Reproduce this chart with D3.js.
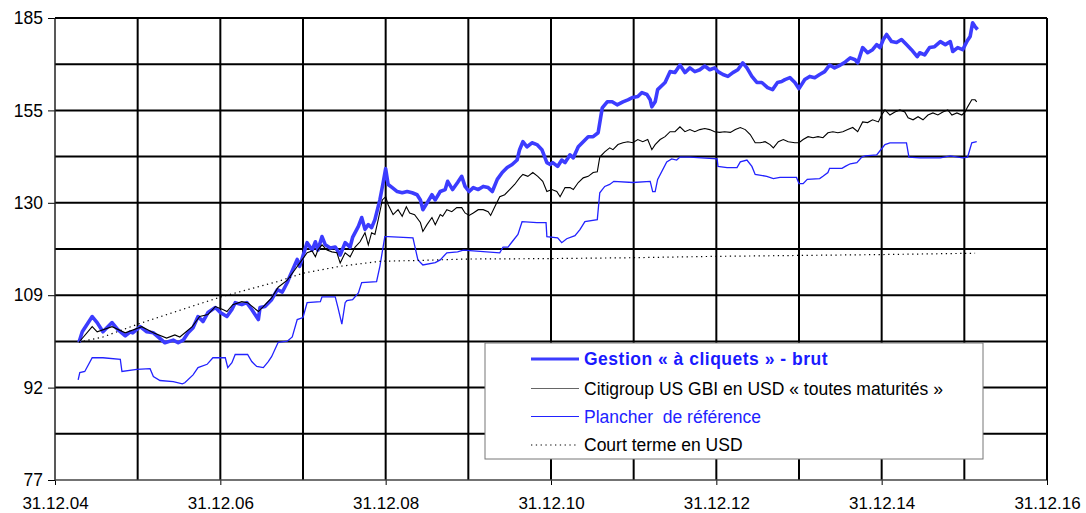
<!DOCTYPE html>
<html>
<head>
<meta charset="utf-8">
<script src="https://cdn.jsdelivr.net/npm/d3@7"></script>
<style>
  body { margin: 0; background: #fff; }
  svg { display: block; font-family: "Liberation Sans", Arial, sans-serif; }
</style>
</head>
<body>
<div id="chart"></div>
<script>
// Values. x is a decimal year: 2005.0 = 31.12.04
const xTicks = [2005, 2007, 2009, 2011, 2013, 2015, 2017];
const xTickLabels = ["31.12.04", "31.12.06", "31.12.08", "31.12.10", "31.12.12", "31.12.14", "31.12.16"];
const yMin = 77, yMax = 185;
const yTickLabels = ["77", "92", "109", "130", "155", "185"];

const seriesNames = [
  "Gestion « à cliquets » - brut",
  "Citigroup US GBI en USD « toutes maturités »",
  "Plancher  de référence",
  "Court terme en USD"
];

const gestion = [[2005.29,100.0],[2005.33,102.0],[2005.45,105.0],[2005.51,103.8],[2005.58,102.0],[2005.69,103.8],[2005.76,102.4],[2005.85,101.2],[2005.91,102.0],[2005.94,101.8],[2006.03,103.0],[2006.11,102.0],[2006.19,101.8],[2006.25,101.0],[2006.33,99.9],[2006.43,100.4],[2006.49,99.9],[2006.55,100.4],[2006.61,101.8],[2006.67,102.8],[2006.73,105.0],[2006.79,104.0],[2006.85,105.8],[2006.94,106.8],[2007.00,105.8],[2007.08,105.0],[2007.14,106.4],[2007.18,107.8],[2007.26,107.4],[2007.32,107.8],[2007.38,106.4],[2007.46,104.4],[2007.48,106.8],[2007.54,107.0],[2007.62,108.4],[2007.69,110.5],[2007.75,110.0],[2007.81,112.0],[2007.84,113.3],[2007.93,117.0],[2007.96,115.5],[2008.05,120.8],[2008.11,119.1],[2008.15,121.0],[2008.18,119.1],[2008.23,122.2],[2008.27,120.3],[2008.33,119.6],[2008.39,119.8],[2008.45,118.0],[2008.51,120.8],[2008.57,119.8],[2008.60,122.0],[2008.67,124.6],[2008.71,126.7],[2008.75,123.9],[2008.79,125.0],[2008.83,124.3],[2008.87,126.2],[2008.93,131.0],[2008.97,135.4],[2009.00,139.0],[2009.03,134.9],[2009.08,134.1],[2009.14,133.1],[2009.20,132.8],[2009.26,133.1],[2009.32,132.8],[2009.38,132.3],[2009.42,131.0],[2009.45,128.6],[2009.50,130.2],[2009.56,132.3],[2009.60,131.0],[2009.66,133.1],[2009.72,133.6],[2009.75,135.7],[2009.81,133.6],[2009.87,135.4],[2009.92,137.0],[2009.96,134.4],[2010.01,133.1],[2010.06,134.1],[2010.12,133.6],[2010.18,134.4],[2010.24,134.1],[2010.29,133.1],[2010.35,136.2],[2010.41,138.0],[2010.47,139.3],[2010.53,140.1],[2010.59,141.3],[2010.62,144.1],[2010.66,146.3],[2010.71,144.9],[2010.77,146.0],[2010.83,145.5],[2010.89,144.1],[2010.95,140.6],[2010.99,140.1],[2011.02,140.6],[2011.08,139.6],[2011.13,141.3],[2011.17,140.6],[2011.23,142.7],[2011.27,141.9],[2011.33,144.9],[2011.39,146.3],[2011.45,147.7],[2011.51,147.7],[2011.57,148.8],[2011.62,156.0],[2011.68,157.8],[2011.74,157.8],[2011.80,156.9],[2011.87,157.8],[2011.93,158.4],[2011.99,159.1],[2012.05,159.4],[2012.10,160.6],[2012.16,160.0],[2012.20,158.4],[2012.22,156.3],[2012.26,157.8],[2012.29,161.5],[2012.38,163.7],[2012.44,167.1],[2012.50,166.8],[2012.56,169.2],[2012.62,166.8],[2012.68,168.3],[2012.74,167.1],[2012.80,167.7],[2012.86,168.9],[2012.92,167.7],[2012.98,168.3],[2013.02,167.1],[2013.08,166.2],[2013.14,165.6],[2013.20,166.8],[2013.26,167.7],[2013.32,169.9],[2013.37,168.3],[2013.43,165.6],[2013.49,163.7],[2013.55,163.7],[2013.62,162.1],[2013.68,161.5],[2013.74,163.7],[2013.79,164.0],[2013.83,164.6],[2013.89,165.2],[2013.95,163.7],[2014.00,161.8],[2014.07,164.6],[2014.13,165.6],[2014.19,165.2],[2014.25,166.2],[2014.31,167.1],[2014.37,169.2],[2014.43,168.3],[2014.50,169.2],[2014.56,170.2],[2014.62,171.5],[2014.68,170.9],[2014.71,169.9],[2014.77,174.9],[2014.83,173.2],[2014.89,174.2],[2014.94,175.9],[2014.98,174.9],[2015.02,177.6],[2015.06,179.3],[2015.12,176.9],[2015.18,176.6],[2015.24,177.6],[2015.30,175.9],[2015.36,174.2],[2015.43,171.9],[2015.46,173.2],[2015.52,172.5],[2015.58,174.9],[2015.64,175.2],[2015.71,176.9],[2015.77,175.9],[2015.83,176.9],[2015.86,173.6],[2015.92,174.9],[2015.98,174.2],[2016.03,176.9],[2016.07,178.6],[2016.10,183.3],[2016.13,182.0],[2016.16,181.0]];

const citigroup = [[2005.29,100.0],[2005.45,103.0],[2005.51,102.0],[2005.69,103.0],[2005.85,101.8],[2006.05,103.0],[2006.19,101.8],[2006.35,100.8],[2006.45,101.4],[2006.51,101.0],[2006.66,103.0],[2006.75,105.0],[2006.85,105.4],[2006.94,107.0],[2007.03,106.4],[2007.08,106.0],[2007.15,107.4],[2007.26,108.0],[2007.33,107.8],[2007.46,106.0],[2007.52,107.0],[2007.62,108.8],[2007.70,111.0],[2007.81,112.5],[2007.90,114.7],[2007.96,116.2],[2008.05,118.5],[2008.11,118.9],[2008.15,117.6],[2008.18,119.1],[2008.23,120.3],[2008.29,119.1],[2008.35,118.7],[2008.41,118.5],[2008.45,116.2],[2008.51,118.5],[2008.57,117.6],[2008.63,119.8],[2008.69,121.0],[2008.75,123.1],[2008.79,120.3],[2008.83,123.1],[2008.87,122.7],[2008.91,126.2],[2008.96,131.0],[2009.00,131.8],[2009.03,129.8],[2009.09,127.4],[2009.15,128.6],[2009.20,127.0],[2009.25,129.3],[2009.29,127.8],[2009.35,127.4],[2009.42,125.5],[2009.45,123.4],[2009.50,125.0],[2009.56,126.7],[2009.60,125.0],[2009.66,127.4],[2009.69,127.0],[2009.74,128.6],[2009.80,128.1],[2009.86,129.1],[2009.92,129.1],[2009.96,127.8],[2010.01,127.2],[2010.06,127.8],[2010.12,128.6],[2010.18,128.6],[2010.24,128.1],[2010.27,127.2],[2010.32,129.3],[2010.38,131.8],[2010.44,132.3],[2010.50,133.6],[2010.56,134.9],[2010.62,136.6],[2010.66,137.5],[2010.72,137.0],[2010.78,138.0],[2010.84,137.0],[2010.90,135.7],[2010.95,133.1],[2011.01,133.6],[2011.07,133.1],[2011.11,131.8],[2011.17,134.1],[2011.23,134.1],[2011.27,133.6],[2011.33,135.4],[2011.39,136.6],[2011.45,137.0],[2011.51,138.0],[2011.56,138.2],[2011.59,142.1],[2011.65,143.5],[2011.71,144.6],[2011.75,144.1],[2011.81,145.5],[2011.87,146.0],[2011.93,146.3],[2011.99,146.0],[2012.05,146.9],[2012.11,146.3],[2012.17,146.9],[2012.22,144.1],[2012.26,145.5],[2012.32,146.9],[2012.38,147.7],[2012.44,149.1],[2012.50,149.1],[2012.56,150.5],[2012.62,149.1],[2012.68,149.7],[2012.74,149.1],[2012.80,149.7],[2012.86,150.0],[2012.92,149.7],[2012.98,149.1],[2013.04,148.9],[2013.10,149.1],[2013.17,148.9],[2013.23,149.7],[2013.29,150.3],[2013.35,149.7],[2013.41,148.3],[2013.47,146.0],[2013.53,146.0],[2013.59,146.3],[2013.65,145.5],[2013.69,144.6],[2013.75,146.3],[2013.81,146.9],[2013.87,146.3],[2013.95,146.0],[2014.00,146.0],[2014.05,146.9],[2014.11,147.7],[2014.17,147.4],[2014.23,147.7],[2014.29,147.4],[2014.35,148.8],[2014.41,149.1],[2014.47,148.8],[2014.53,149.1],[2014.59,149.7],[2014.65,150.3],[2014.71,149.1],[2014.77,151.9],[2014.83,151.7],[2014.89,152.5],[2014.96,151.9],[2015.00,153.9],[2015.04,155.4],[2015.10,153.9],[2015.16,154.8],[2015.22,155.4],[2015.28,154.8],[2015.32,153.1],[2015.38,152.5],[2015.44,153.4],[2015.50,152.5],[2015.56,153.9],[2015.62,154.5],[2015.68,153.9],[2015.74,154.8],[2015.80,155.4],[2015.85,153.9],[2015.91,154.5],[2015.97,153.9],[2016.01,154.8],[2016.04,156.3],[2016.09,158.4],[2016.13,158.4],[2016.15,157.8]];

const plancher = [[2005.28,93.1],[2005.30,94.4],[2005.36,94.6],[2005.45,97.1],[2005.58,97.1],[2005.79,96.8],[2005.81,94.6],[2005.99,95.0],[2006.15,95.1],[2006.19,93.7],[2006.27,93.0],[2006.43,92.8],[2006.54,92.4],[2006.57,92.6],[2006.67,94.0],[2006.73,95.3],[2006.84,95.9],[2006.91,97.1],[2007.06,97.1],[2007.09,95.3],[2007.14,96.2],[2007.18,97.7],[2007.33,97.7],[2007.38,96.4],[2007.44,95.5],[2007.52,95.3],[2007.58,96.4],[2007.62,97.3],[2007.70,100.0],[2007.81,100.2],[2007.87,101.0],[2007.93,104.4],[2008.00,104.8],[2008.05,107.8],[2008.21,108.0],[2008.23,109.0],[2008.39,109.0],[2008.42,107.0],[2008.47,103.5],[2008.51,107.8],[2008.53,108.2],[2008.60,108.4],[2008.67,109.8],[2008.71,112.0],[2008.89,112.2],[2008.93,115.5],[2008.99,122.2],[2009.03,122.2],[2009.33,121.9],[2009.39,116.9],[2009.45,115.8],[2009.60,116.3],[2009.66,116.9],[2009.74,118.5],[2009.87,118.7],[2009.94,119.1],[2010.38,118.5],[2010.42,119.8],[2010.48,119.8],[2010.53,121.0],[2010.60,122.7],[2010.65,125.7],[2010.83,125.5],[2010.94,125.5],[2010.95,122.2],[2011.08,121.9],[2011.13,120.8],[2011.19,121.7],[2011.29,122.4],[2011.35,123.8],[2011.41,125.7],[2011.56,126.2],[2011.59,132.8],[2011.65,134.4],[2011.71,134.9],[2011.76,135.7],[2011.99,135.4],[2012.20,135.7],[2012.23,133.1],[2012.26,133.1],[2012.29,136.2],[2012.40,140.8],[2012.46,141.6],[2012.52,141.3],[2012.56,142.1],[2012.68,142.1],[2013.01,141.6],[2013.02,139.6],[2013.13,139.3],[2013.25,139.3],[2013.29,140.8],[2013.37,141.3],[2013.43,139.6],[2013.47,137.5],[2013.61,137.0],[2013.69,136.4],[2013.77,136.7],[2013.97,136.7],[2014.00,135.1],[2014.05,135.1],[2014.10,136.2],[2014.25,136.4],[2014.29,137.0],[2014.35,138.0],[2014.37,139.1],[2014.52,139.1],[2014.56,139.6],[2014.62,140.3],[2014.70,140.6],[2014.76,142.1],[2014.80,142.4],[2014.94,142.7],[2014.98,143.8],[2015.04,145.5],[2015.10,146.0],[2015.30,146.0],[2015.33,142.1],[2015.46,141.9],[2015.71,141.9],[2015.83,142.4],[2015.98,141.9],[2016.04,142.1],[2016.09,146.0],[2016.15,146.3]];

const courtTerme = [[2005.29,100.0],[2005.58,101.0],[2006.02,103.6],[2006.50,106.2],[2007.01,109.0],[2007.69,112.2],[2008.00,114.0],[2008.45,115.5],[2008.93,116.6],[2009.42,116.8],[2009.98,117.1],[2010.99,117.2],[2012.00,117.4],[2013.00,117.7],[2014.00,117.9],[2015.00,118.1],[2016.13,118.4]];

const width = 1086, height = 513;
const plotLeft = 55, plotRight = 1047, plotTop = 18, plotBottom = 480;

const svg = d3.select("#chart").append("svg")
  .attr("width", width)
  .attr("height", height);

const x = d3.scaleLinear().domain([2005, 2017]).range([plotLeft, plotRight]);
const y = d3.scaleLog().domain([yMin, yMax]).range([plotBottom, plotTop]);

// 10 equal steps on the log scale, labels on every other one
const yGrid = d3.range(11).map(k => yMin * Math.pow(yMax / yMin, k / 10));
const yLabelled = yGrid.filter((d, i) => i % 2 === 0);
const xGrid = d3.range(2006, 2017);

// gridlines
svg.append("g")
  .selectAll("line")
  .data(yGrid.slice(1))
  .join("line")
  .attr("x1", plotLeft).attr("x2", plotRight)
  .attr("y1", d => y(d)).attr("y2", d => y(d))
  .attr("stroke", "#000")
  .attr("stroke-width", 2);

svg.append("g")
  .selectAll("line")
  .data(xGrid)
  .join("line")
  .attr("x1", d => x(d)).attr("x2", d => x(d))
  .attr("y1", plotTop).attr("y2", plotBottom)
  .attr("stroke", "#000")
  .attr("stroke-width", 2);

// series
const line = d3.line().x(d => x(d[0])).y(d => y(d[1]));

svg.append("path").datum(plancher)
  .attr("d", line).attr("fill", "none")
  .attr("stroke", "#2222ff").attr("stroke-width", 1.3);

svg.append("path").datum(gestion)
  .attr("d", line).attr("fill", "none")
  .attr("stroke", "#3c3cff").attr("stroke-width", 3.6)
  .attr("stroke-linejoin", "round");

svg.append("path").datum(citigroup)
  .attr("d", line).attr("fill", "none")
  .attr("stroke", "#000").attr("stroke-width", 1.1);

svg.append("path").datum(courtTerme)
  .attr("d", line).attr("fill", "none")
  .attr("stroke", "#000").attr("stroke-width", 1.2)
  .attr("stroke-dasharray", "1.3,3.5");

// axes
const yAxis = svg.append("g")
  .attr("transform", `translate(${plotLeft},0)`)
  .call(d3.axisLeft(y).tickValues(yLabelled).tickSize(7).tickPadding(5)
    .tickFormat((d, i) => yTickLabels[i]));
yAxis.select(".domain").remove();

const xAxis = svg.append("g")
  .attr("transform", `translate(0,${plotBottom})`)
  .call(d3.axisBottom(x).tickValues(xTicks).tickSize(5).tickPadding(12)
    .tickFormat((d, i) => xTickLabels[i]));
xAxis.select(".domain").remove();

svg.selectAll(".tick text")
  .attr("font-family", "Liberation Sans, Arial, sans-serif")
  .attr("font-size", "17.5px")
  .attr("fill", "#000");
xAxis.selectAll(".tick text").attr("font-size", "17px");
svg.selectAll(".tick line").attr("stroke", "#000");

// frame
svg.append("line").attr("x1", plotLeft).attr("x2", plotLeft).attr("y1", plotTop).attr("y2", plotBottom)
  .attr("stroke", "#222").attr("stroke-width", 1.5);
svg.append("line").attr("x1", plotLeft).attr("x2", plotRight).attr("y1", plotBottom).attr("y2", plotBottom)
  .attr("stroke", "#444").attr("stroke-width", 1.3);
svg.append("line").attr("x1", plotLeft).attr("x2", plotRight).attr("y1", plotTop).attr("y2", plotTop)
  .attr("stroke", "#000").attr("stroke-width", 2);
svg.append("line").attr("x1", plotRight).attr("x2", plotRight).attr("y1", plotTop).attr("y2", plotBottom)
  .attr("stroke", "#000").attr("stroke-width", 2);

// legend
const legend = svg.append("g").attr("transform", "translate(485,343)");
legend.append("rect")
  .attr("width", 498).attr("height", 116)
  .attr("fill", "#fff").attr("stroke", "#777").attr("stroke-width", 1);

const legendStyles = [
  { stroke: "#3c3cff", width: 3.2, dash: null, text: "#1a1aff", bold: true },
  { stroke: "#666", width: 1.2, dash: null, text: "#000", bold: false },
  { stroke: "#2222ff", width: 1.2, dash: null, text: "#2222ff", bold: false },
  { stroke: "#000", width: 1.2, dash: "1.3,3.5", text: "#000", bold: false }
];
const rowY = [16, 45.5, 73.5, 102];

seriesNames.forEach((name, i) => {
  const s = legendStyles[i];
  legend.append("line")
    .attr("x1", 46).attr("x2", 94)
    .attr("y1", rowY[i]).attr("y2", rowY[i])
    .attr("stroke", s.stroke).attr("stroke-width", s.width)
    .attr("stroke-dasharray", s.dash);
  legend.append("text")
    .attr("x", 99).attr("y", rowY[i] + 6.3)
    .attr("font-size", "17.5px")
    .attr("font-weight", s.bold ? "bold" : "normal")
    .attr("letter-spacing", s.bold ? "0.5px" : null)
    .attr("fill", s.text)
    .style("white-space", "pre")
    .text(name);
});
</script>
</body>
</html>
